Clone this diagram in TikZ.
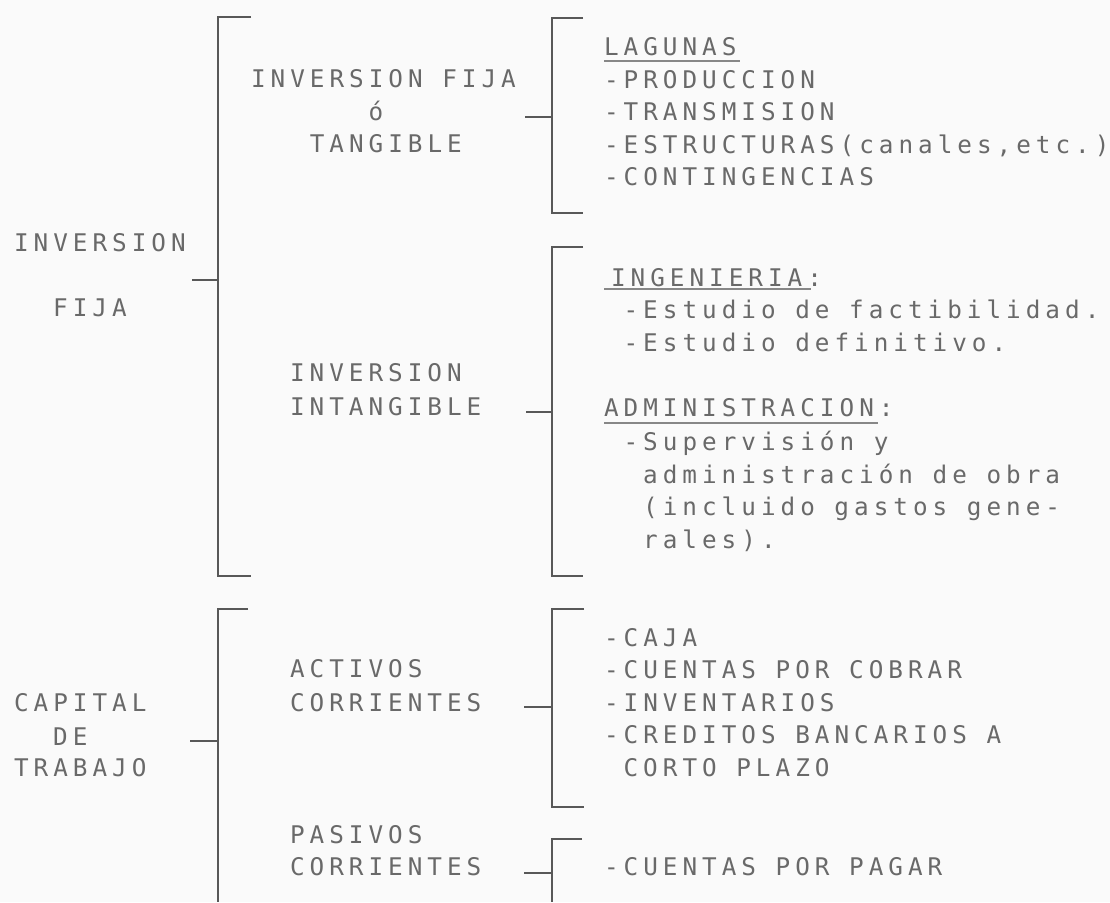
\documentclass[tikz,border=0pt]{standalone}
\usepackage{fontspec}
\newfontfamily\dmfam[LetterSpace=20.6]{DejaVu Sans Mono}
\newcommand\dmtxt{\dmfam\fontsize{24.3pt}{32.5pt}\selectfont\frenchspacing\spaceskip=19.6pt\relax\xspaceskip=19.6pt\relax}
\definecolor{bg}{RGB}{250,250,250}
\definecolor{txtgray}{RGB}{105,105,105}
\definecolor{linegray}{RGB}{88,88,88}
\tikzset{
  txt/.style={anchor=base west, inner sep=0pt, outer sep=0pt, text=txtgray, font=\dmtxt},
  brk/.style={draw=linegray, line width=2.3pt, line join=miter},
  uline/.style={draw=txtgray!80, line width=1.6pt}
}
\begin{document}
\begin{tikzpicture}[x=1pt,y=-1pt]
\path[fill=bg] (0,0) rectangle (1110,902);
\useasboundingbox (0,0) rectangle (1110,902);
% ---------- left labels
\node[txt] (inv) at (14,251.9) {INVERSION};
\node[txt] (fija) at (53.2,316.9) {FIJA};
\node[txt] (cap) at (14,711.9) {CAPITAL};
\node[txt] (de) at (53.2,745.9) {DE};
\node[txt] (trab) at (14,776.9) {TRABAJO};
% ---------- middle labels
\node[txt] (ift) at (251,87.9) {INVERSION FIJA};
\node[txt] (o) at (368.6,120.9) {ó};
\node[txt] (tang) at (309.8,152.9) {TANGIBLE};
\node[txt] (ii1) at (290,381.9) {INVERSION};
\node[txt] (ii2) at (290,415.9) {INTANGIBLE};
\node[txt] (ac1) at (290,677.9) {ACTIVOS};
\node[txt] (ac2) at (290,711.9) {CORRIENTES};
\node[txt] (pc1) at (290,843.9) {PASIVOS};
\node[txt] (pc2) at (290,875.9) {CORRIENTES};
% ---------- right column: tangible
\node[txt] (lag) at (604,55.9) {LAGUNAS};
\node[txt] (prod) at (604,88.4) {-PRODUCCION};
\node[txt] (trans) at (604,120.9) {-TRANSMISION};
\node[txt] (estr) at (604,153.4) {-ESTRUCTURAS(canales,etc.)};
\node[txt] (cont) at (604,185.9) {-CONTINGENCIAS};
% ---------- right column: intangible
\node[txt] (ing) at (611,286.9) {INGENIERIA:};
\node[txt] (ef) at (623.6,318.9) {-Estudio de factibilidad.};
\node[txt] (ed) at (623.6,351.9) {-Estudio definitivo.};
\node[txt] (adm) at (604,416.9) {ADMINISTRACION:};
\node[txt] (sup) at (623.6,450.9) {-Supervisión y};
\node[txt] (admo) at (643.2,483.9) {administración de obra};
\node[txt] (incl) at (643.2,515.9) {(incluido gastos gene-};
\node[txt] (rales) at (643.2,548.9) {rales).};
% ---------- right column: activos / pasivos
\node[txt] (caja) at (604,646.9) {-CAJA};
\node[txt] (cxc) at (604,678.9) {-CUENTAS POR COBRAR};
\node[txt] (invt) at (604,711.9) {-INVENTARIOS};
\node[txt] (cred) at (604,743.9) {-CREDITOS BANCARIOS A};
\node[txt] (corto) at (623.6,776.9) {CORTO PLAZO};
\node[txt] (cxp) at (604,875.9) {-CUENTAS POR PAGAR};
% ---------- underlines
\draw[uline] ([yshift=-5pt]lag.base west) -- ++(136,0);
\draw[uline] ([yshift=-2pt,xshift=-7pt]ing.base west) -- ++(207,0);
\draw[uline] ([yshift=-6pt]adm.base west) -- ++(274,0);
% ---------- bracket: INVERSION FIJA
\coordinate (A1) at (251,17); \coordinate (A2) at (218,17);
\coordinate (A3) at (218,576); \coordinate (A4) at (251,576);
\coordinate (Am) at (218,280); \coordinate (Ain) at (192,280);
\draw[brk] (A1) -- (A2) -- (A3) -- (A4);
\draw[brk] (Ain) -- (Am);
% ---------- bracket: tangible
\coordinate (B1) at (583,18); \coordinate (B2) at (552,18);
\coordinate (B3) at (552,213); \coordinate (B4) at (583,213);
\coordinate (Bm) at (552,117); \coordinate (Bin) at (525,117);
\draw[brk] (B1) -- (B2) -- (B3) -- (B4);
\draw[brk] (Bin) -- (Bm);
% ---------- bracket: intangible
\coordinate (C1) at (583,247); \coordinate (C2) at (552,247);
\coordinate (C3) at (552,576); \coordinate (C4) at (583,576);
\coordinate (Cm) at (552,412); \coordinate (Cin) at (526,412);
\draw[brk] (C1) -- (C2) -- (C3) -- (C4);
\draw[brk] (Cin) -- (Cm);
% ---------- bracket: CAPITAL DE TRABAJO
\coordinate (D1) at (248,609); \coordinate (D2) at (218,609);
\coordinate (D3) at (218,902);
\coordinate (Dm) at (218,741); \coordinate (Din) at (190,741);
\draw[brk] (D1) -- (D2) -- (D3);
\draw[brk] (Din) -- (Dm);
% ---------- bracket: activos
\coordinate (E1) at (584,609); \coordinate (E2) at (552,609);
\coordinate (E3) at (552,807); \coordinate (E4) at (584,807);
\coordinate (Em) at (552,707); \coordinate (Ein) at (524,707);
\draw[brk] (E1) -- (E2) -- (E3) -- (E4);
\draw[brk] (Ein) -- (Em);
% ---------- bracket: pasivos
\coordinate (F1) at (582,839); \coordinate (F2) at (552,839);
\coordinate (F3) at (552,902);
\coordinate (Fm) at (552,873); \coordinate (Fin) at (524,873);
\draw[brk] (F1) -- (F2) -- (F3);
\draw[brk] (Fin) -- (Fm);
\end{tikzpicture}
\end{document}
